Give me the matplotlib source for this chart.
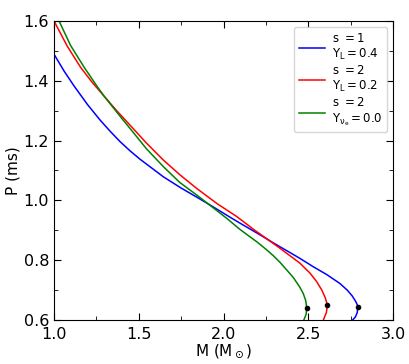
import matplotlib
matplotlib.use("Agg")
import matplotlib.pyplot as plt
from matplotlib.ticker import MultipleLocator

plt.rcParams['mathtext.fontset'] = 'dejavusans'

# curve data (M in solar masses, P in ms)
m_blue = [1.000, 1.059, 1.118, 1.197, 1.273, 1.330, 1.389, 1.448, 1.507, 1.645, 1.745, 1.842,
          1.940, 2.038, 2.097, 2.200, 2.294, 2.333, 2.400, 2.451, 2.530, 2.609, 2.687,
          2.730, 2.760, 2.780, 2.790, 2.792, 2.789, 2.778, 2.762]
p_blue = [1.489, 1.433, 1.383, 1.321, 1.268, 1.232, 1.197, 1.166, 1.138, 1.079, 1.043, 1.011,
          0.978, 0.944, 0.924, 0.890, 0.858, 0.845, 0.823, 0.806, 0.778, 0.752, 0.722,
          0.700, 0.680, 0.662, 0.650, 0.642, 0.625, 0.610, 0.600]

m_red = [1.000, 1.079, 1.157, 1.225, 1.295, 1.370, 1.448, 1.545, 1.645, 1.742, 1.842,
         1.960, 2.078, 2.180, 2.284, 2.333, 2.451, 2.510, 2.550, 2.580, 2.600, 2.613,
         2.607, 2.589]
p_red = [1.600, 1.515, 1.445, 1.395, 1.349, 1.300, 1.252, 1.192, 1.135, 1.086, 1.040,
         0.990, 0.946, 0.902, 0.860, 0.840, 0.790, 0.757, 0.728, 0.700, 0.675, 0.650,
         0.625, 0.600]

m_green = [1.030, 1.098, 1.177, 1.256, 1.295, 1.403, 1.448, 1.545, 1.645, 1.742, 1.842,
           1.940, 2.019, 2.097, 2.200, 2.254, 2.294, 2.333, 2.372, 2.412, 2.450, 2.471,
           2.485, 2.491, 2.488, 2.474]
p_green = [1.600, 1.518, 1.446, 1.380, 1.349, 1.272, 1.241, 1.173, 1.113, 1.060, 1.018,
           0.975, 0.940, 0.903, 0.860, 0.835, 0.815, 0.793, 0.768, 0.742, 0.710, 0.688,
           0.665, 0.641, 0.620, 0.600]

max_m = [2.792, 2.613, 2.491]
max_p = [0.642, 0.650, 0.641]

labels = [r"$\mathrm{s\ =1}$" + "\n" + r"$\mathrm{Y_L = 0.4}$",
          r"$\mathrm{s\ =2}$" + "\n" + r"$\mathrm{Y_L = 0.2}$",
          r"$\mathrm{s\ =2}$" + "\n" + r"$\mathrm{Y_{\nu_e} = 0.0}$"]

fig = plt.figure(figsize=(4.09, 3.64), dpi=100)
ax = fig.add_axes([54/409, 1 - 320/364, (393-54)/409, (320-21)/364])

ax.plot(m_blue, p_blue, color='blue', lw=1.1, label=labels[0])
ax.plot(m_red, p_red, color='red', lw=1.1, label=labels[1])
ax.plot(m_green, p_green, color='green', lw=1.1, label=labels[2])
ax.plot(max_m, max_p, 'o', color='black', ms=3, zorder=5)

ax.set_xlim(1.0, 3.0)
ax.set_ylim(0.6, 1.6)
ax.xaxis.set_major_locator(MultipleLocator(0.5))
ax.xaxis.set_minor_locator(MultipleLocator(0.25))
ax.yaxis.set_major_locator(MultipleLocator(0.2))
ax.yaxis.set_minor_locator(MultipleLocator(0.1))
ax.tick_params(which='both', direction='in', top=True, right=True, labelsize=11.5)
ax.tick_params(which='major', length=5)
ax.tick_params(which='minor', length=3)
ax.tick_params(axis='x', pad=5)
ax.set_xlabel(r"M (M$_\odot$)", fontsize=11, labelpad=0)
ax.set_ylabel("P (ms)", fontsize=11, labelpad=2)

ax.legend(loc='upper right', fontsize=8.5, handlelength=2.2, handletextpad=0.6,
          labelspacing=0.15, fancybox=True, borderaxespad=0.5)

fig.savefig("out.png", dpi=100)
